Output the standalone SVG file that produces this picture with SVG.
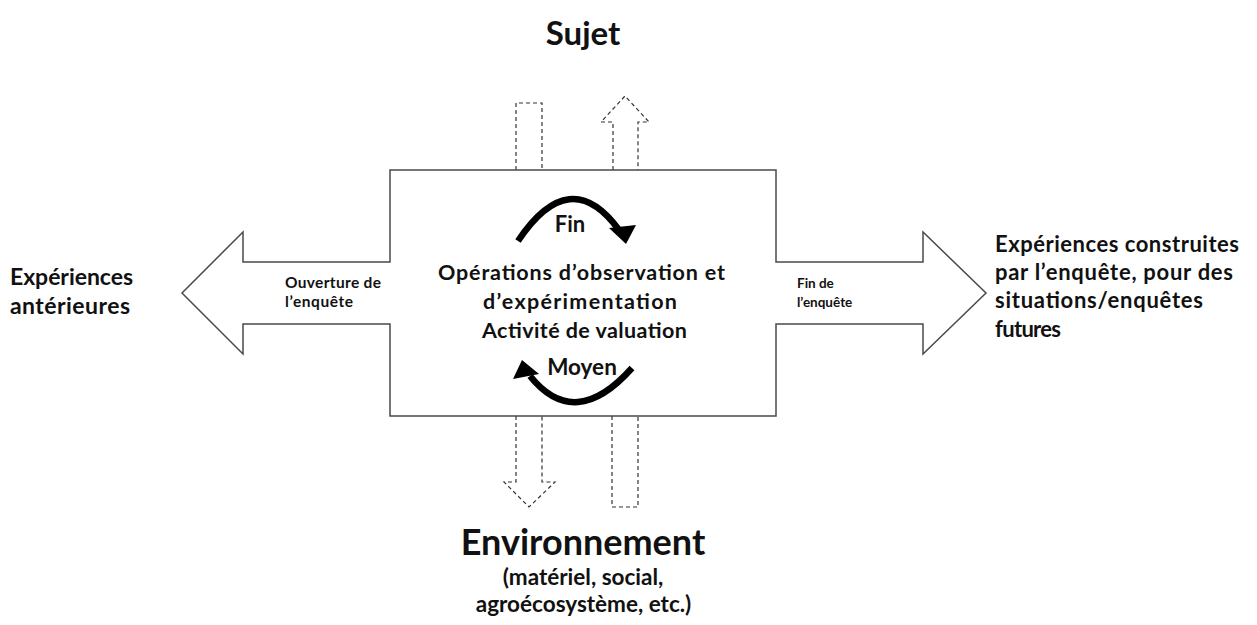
<svg xmlns="http://www.w3.org/2000/svg" width="1257" height="625" viewBox="0 0 1257 625">
<style>
text{font-family:Lato,"Open Sans","DejaVu Sans",sans-serif;font-weight:700;fill:#111;}
.c{text-anchor:middle;}
.main{fill:#fff;stroke:#4a4a4a;stroke-width:1.5;}
.dash{fill:none;stroke:#333;stroke-width:1.2;stroke-dasharray:4 3;}
.arc{fill:none;stroke:#000;stroke-width:6.5;}
.head{fill:#000;}
</style>
<rect width="1257" height="625" fill="#fff"/>
<g id="connectors">
<path class="dash" d="M516 170 V103 H542 V170"/>
<path class="dash" d="M613 170 V122 H601 L625 96 L649 122 H638 V170"/>
<path class="dash" d="M516 416 V482 H504 L529 507 L555 482 H542 V416"/>
<path class="dash" d="M612 416 V507 H638 V416"/>
</g>
<g id="process">
<path class="main" d="M390 170 H776 V262 H923 V232 L986 293 L923 354 V324 H776 V416 H390 V324 H243 V354 L182 293 L243 232 V262 H390 Z"/>
<text class="c" x="581.5" y="280" font-size="21.5" textLength="287" lengthAdjust="spacing">Opérations d’observation et</text>
<text class="c" x="580" y="309" font-size="21.5" textLength="194" lengthAdjust="spacing">d’expérimentation</text>
<text class="c" x="584.5" y="338" font-size="21.5" textLength="205" lengthAdjust="spacing">Activité de valuation</text>
</g>
<g id="cycle-fin">
<path class="arc" d="M518 241 Q570 163 619 230"/>
<polygon class="head" points="609,228 636,225 626,244"/>
<text class="c" x="570" y="232" font-size="22">Fin</text>
</g>
<g id="cycle-moyen">
<path class="arc" d="M530 376 Q575 432 632 368"/>
<polygon class="head" points="513,379 539,374 522,360"/>
<text class="c" x="582" y="375" font-size="22.5">Moyen</text>
</g>
<g id="opening">
<text x="285" y="288" font-size="15.5" textLength="96" lengthAdjust="spacing">Ouverture de</text>
<text x="285" y="307" font-size="15.5" textLength="68" lengthAdjust="spacing">l’enquête</text>
</g>
<g id="closing">
<text x="797" y="288" font-size="13.5">Fin de</text>
<text x="797" y="307" font-size="13.5">l’enquête</text>
</g>
<g id="sujet">
<text class="c" x="583" y="45" font-size="33">Sujet</text>
</g>
<g id="environnement">
<text class="c" x="583" y="555" font-size="36">Environnement</text>
<text class="c" x="583" y="585" font-size="22.5">(matériel, social,</text>
<text class="c" x="583.5" y="612" font-size="22.5">agroécosystème, etc.)</text>
</g>
<g id="past">
<text x="10" y="285" font-size="23" textLength="123" lengthAdjust="spacing">Expériences</text>
<text x="10" y="314" font-size="23" textLength="120" lengthAdjust="spacing">antérieures</text>
</g>
<g id="future">
<text x="995" y="252" font-size="22" textLength="244" lengthAdjust="spacing">Expériences construites</text>
<text x="995" y="280" font-size="22" textLength="238" lengthAdjust="spacing">par l’enquête, pour des</text>
<text x="995" y="308" font-size="22" textLength="208" lengthAdjust="spacing">situations/enquêtes</text>
<text x="995" y="337" font-size="22" textLength="66" lengthAdjust="spacing">futures</text>
</g>
</svg>
